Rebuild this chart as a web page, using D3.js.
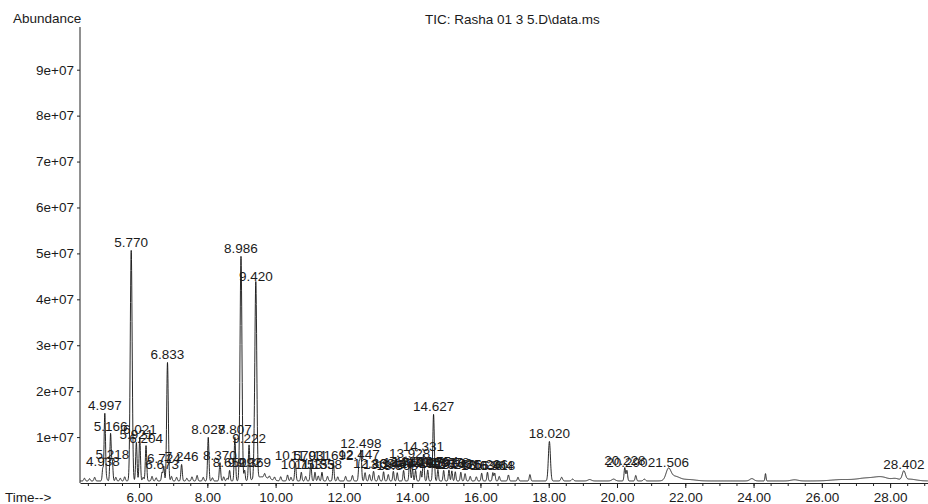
<!DOCTYPE html>
<html>
<head>
<meta charset="utf-8">
<script src="https://cdn.jsdelivr.net/npm/d3@7"></script>
<style>
  body { margin: 0; background: #fff; }
  text { font-family: "Liberation Sans", Arial, sans-serif; fill: #1b1b1b; }
</style>
</head>
<body>
<svg id="chart" width="928" height="504"></svg>
<script>
// Integrated peaks: retention time (min) and apex abundance (counts)
const peakTimes = [4.938, 4.997, 5.166, 5.218, 5.770, 5.921, 6.021, 6.204, 6.673, 6.724,
  6.833, 7.246, 8.027, 8.370, 8.652, 8.807, 8.986, 9.092, 9.222, 9.369,
  9.420, 10.579, 10.753, 11.031, 11.153, 11.358, 11.692, 12.447, 12.498, 12.869,
  13.163, 13.449, 13.563, 13.749, 13.928, 14.010, 14.100, 14.252, 14.331, 14.456,
  14.627, 14.754, 14.923, 15.078, 15.163, 15.263, 15.425, 16.036, 16.206, 16.364,
  16.418, 18.020, 20.228, 20.290, 21.506, 28.402];
const peakHeights = [2.7e6, 14.7e6, 10.3e6, 4.2e6, 50.2e6, 8.4e6, 9.5e6, 7.7e6, 1.9e6, 3.2e6,
  25.8e6, 3.6e6, 9.5e6, 4.0e6, 2.3e6, 9.5e6, 48.9e6, 2.3e6, 7.7e6, 2.3e6,
  42.8e6, 4.0e6, 1.9e6, 3.8e6, 1.9e6, 1.9e6, 3.8e6, 4.2e6, 6.6e6, 2.1e6,
  2.0e6, 2.1e6, 1.8e6, 2.3e6, 4.4e6, 2.6e6, 2.3e6, 2.2e6, 5.8e6, 2.4e6,
  14.5e6, 2.5e6, 2.3e6, 2.4e6, 2.2e6, 2.0e6, 1.9e6, 1.7e6, 1.9e6, 1.8e6,
  1.7e6, 8.6e6, 2.9e6, 2.3e6, 2.3e6, 1.9e6];
// Peak widths (sigma, min)
const peakWidths = [0.018, 0.02, 0.02, 0.018, 0.028, 0.02, 0.02, 0.02, 0.018, 0.018,
  0.024, 0.02, 0.02, 0.02, 0.018, 0.02, 0.028, 0.018, 0.02, 0.018,
  0.028, 0.02, 0.018, 0.02, 0.018, 0.018, 0.02, 0.02, 0.02, 0.02,
  0.018, 0.018, 0.018, 0.018, 0.02, 0.018, 0.018, 0.018, 0.02, 0.018,
  0.022, 0.018, 0.018, 0.018, 0.018, 0.018, 0.018, 0.018, 0.018, 0.018,
  0.018, 0.03, 0.02, 0.02, 0.07, 0.045];

// Small unlabeled responses along the baseline
const minorTimes = [4.40, 4.55, 4.70, 5.05, 5.32, 5.45, 5.58, 6.12, 6.38, 6.50,
  6.95, 7.10, 7.40, 7.55, 7.70, 7.88, 8.15, 8.48, 8.58, 9.60, 9.68, 9.82, 9.97,
  10.15, 10.35, 10.45, 10.88, 11.25, 11.52, 11.82, 12.05, 12.25, 12.62, 12.75,
  13.02, 13.30, 15.55, 15.70, 15.88, 16.55, 16.82, 17.10, 17.45, 18.38, 18.70,
  19.20, 19.90, 20.55, 20.80, 21.68, 22.10, 23.95, 24.35, 25.20, 26.60, 27.30,
  27.75, 28.15, 28.55];
const minorHeights = [0.6e6, 0.5e6, 0.8e6, 0.5e6, 0.8e6, 0.6e6, 0.9e6, 0.8e6, 1.0e6, 0.7e6,
  1.0e6, 0.8e6, 0.6e6, 0.9e6, 1.2e6, 0.8e6, 0.7e6, 0.9e6, 0.6e6, 0.9e6, 0.8e6, 0.6e6, 0.7e6,
  0.9e6, 1.3e6, 0.8e6, 1.0e6, 1.1e6, 1.0e6, 0.9e6, 1.0e6, 1.2e6, 1.8e6, 1.4e6,
  1.2e6, 1.4e6, 1.6e6, 1.0e6, 0.9e6, 1.0e6, 1.3e6, 0.8e6, 1.4e6, 0.8e6, 0.4e6,
  0.3e6, 0.4e6, 1.2e6, 0.4e6, 1.0e6, 0.3e6, 0.5e6, 1.6e6, 0.25e6, 0.3e6, 0.6e6,
  0.8e6, 0.4e6, 0.4e6];
const minorWidths = [0.02, 0.02, 0.02, 0.02, 0.02, 0.02, 0.02, 0.02, 0.02, 0.02,
  0.02, 0.02, 0.02, 0.02, 0.02, 0.02, 0.02, 0.02, 0.02, 0.2, 0.02, 0.02, 0.02,
  0.02, 0.02, 0.02, 0.02, 0.02, 0.02, 0.02, 0.02, 0.02, 0.02, 0.02,
  0.02, 0.02, 0.02, 0.02, 0.02, 0.02, 0.02, 0.02, 0.02, 0.025, 0.03,
  0.05, 0.05, 0.02, 0.03, 0.15, 0.2, 0.06, 0.015, 0.1, 0.3, 0.25,
  0.2, 0.1, 0.2];

const baseLevel = 0.45e6;

const yTicks = [1e7, 2e7, 3e7, 4e7, 5e7, 6e7, 7e7, 8e7, 9e7];
const xTicks = [6, 8, 10, 12, 14, 16, 18, 20, 22, 24, 26, 28];

const svg = d3.select("#chart");
const x = d3.scaleLinear().domain([4.27, 29.11]).range([80, 928]);
const y = d3.scaleLinear().domain([0, 9.93e7]).range([483, 27]);

// Total ion current as the sum of the peak profiles
const allPeaks = peakTimes.map((t, i) => ({t, h: peakHeights[i], s: peakWidths[i]}))
  .concat(minorTimes.map((t, i) => ({t, h: minorHeights[i], s: minorWidths[i]})));
function tic(t) {
  let v = baseLevel;
  for (const p of allPeaks) {
    const d = (t - p.t) / p.s;
    if (Math.abs(d) < 8) v += p.h * Math.exp(-0.5 * d * d);
  }
  return v;
}
const [t0, t1] = x.domain();
const times = d3.range(t0, t1, 0.004).concat(peakTimes).sort((a, b) => a - b);
const trace = times.map(t => [t, tic(t)]);

svg.append("path")
  .datum(trace)
  .attr("fill", "none")
  .attr("stroke", "#111")
  .attr("stroke-width", 0.9)
  .attr("d", d3.line().x(d => x(d[0])).y(d => y(d[1])));

// Axes
const yAxis = svg.append("g")
  .attr("transform", "translate(80,0)")
  .call(d3.axisLeft(y).tickValues(yTicks).tickSize(3).tickSizeOuter(0)
    .tickFormat(d => (d / 1e7) + "e+07"));
yAxis.select(".domain").attr("d", "M0,27V483");

svg.append("g")
  .attr("transform", "translate(0,483)")
  .call(d3.axisBottom(x).tickValues(d3.range(4.5, 29.1, 0.5)).tickSize(3)
    .tickSizeOuter(0).tickFormat(""));
svg.append("g")
  .attr("transform", "translate(0,483)")
  .call(d3.axisBottom(x).tickValues(xTicks).tickSize(5).tickPadding(4)
    .tickSizeOuter(0).tickFormat(d3.format(".2f")))
  .select(".domain").remove();

svg.selectAll(".tick text").attr("font-size", 13.5).attr("fill", "#1b1b1b")
  .style("font-family", "'Liberation Sans', Arial, sans-serif");
svg.selectAll(".domain, .tick line").attr("stroke", "#222");

// Retention time labels above each integrated peak apex
svg.append("g").selectAll("text")
  .data(peakTimes)
  .join("text")
  .attr("x", t => x(t))
  .attr("y", (t, i) => y(baseLevel + peakHeights[i]) - 3)
  .attr("text-anchor", "middle")
  .attr("font-size", 13.5)
  .text(t => t.toFixed(3));

// Titles
svg.append("text").attr("x", 13).attr("y", 23).attr("font-size", 13.5).text("Abundance");
svg.append("text").attr("x", 5).attr("y", 502).attr("font-size", 13.5).text("Time-->");
svg.append("text").attr("x", 425).attr("y", 24).attr("font-size", 13.5)
  .text("TIC: Rasha 01 3 5.D\\data.ms");
</script>
</body>
</html>
